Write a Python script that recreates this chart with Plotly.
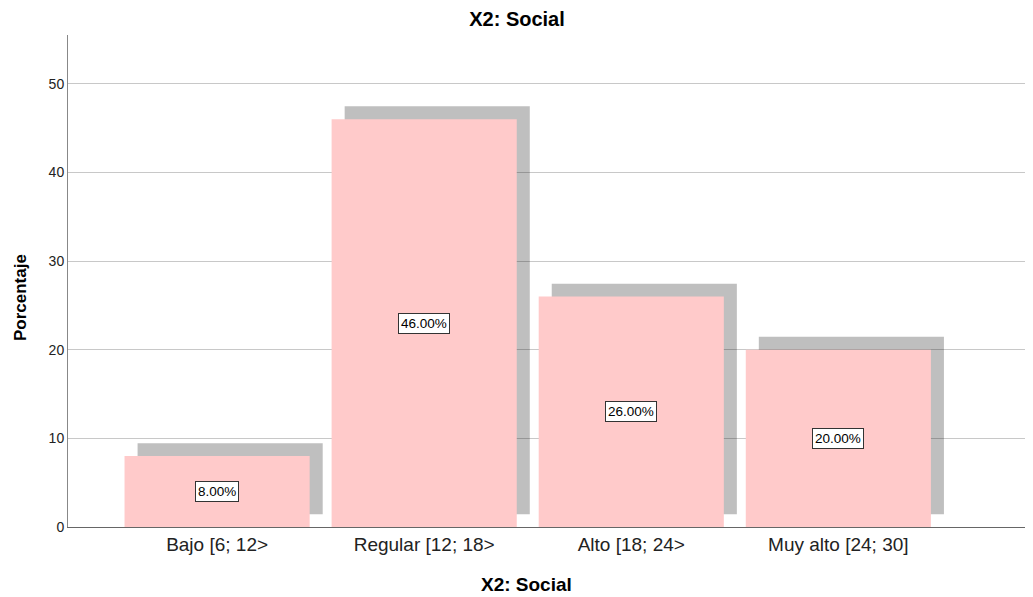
import plotly.graph_objects as go

categories = ["Bajo [6; 12>", "Regular [12; 18>", "Alto [18; 24>", "Muy alto [24; 30]"]
percentages = [8.0, 46.0, 26.0, 20.0]
labels = ["8.00%", "46.00%", "26.00%", "20.00%"]
y_ticks = [0, 10, 20, 30, 40, 50]

FONT = "Arial, Liberation Sans, sans-serif"
bar_w = 0.894
shadow_dx = 0.063
shadow_base = 1.45

fig = go.Figure()
# drop shadow
fig.add_trace(go.Bar(
    x=categories, y=percentages, base=shadow_base,
    width=bar_w, offset=-bar_w / 2 + shadow_dx,
    marker=dict(color="rgba(0,0,0,0.25)", line=dict(width=0)),
    hoverinfo="skip", showlegend=False,
))
# main bars
fig.add_trace(go.Bar(
    x=categories, y=percentages,
    width=bar_w, offset=-bar_w / 2,
    marker=dict(color="#ffcaca", line=dict(width=0)),
    showlegend=False,
))

for c, v, t in zip(categories, percentages, labels):
    fig.add_annotation(
        x=c, y=v / 2, text=t, showarrow=False,
        font=dict(family=FONT, size=13.5, color="black"),
        bgcolor="white", bordercolor="#333333", borderwidth=1, borderpad=2,
    )

fig.add_annotation(
    xref="paper", yref="paper", x=0.4756, y=-0.116, text="<b>X2: Social</b>",
    showarrow=False, font=dict(family=FONT, size=19, color="black"),
    xanchor="center", yanchor="middle",
)
fig.add_annotation(
    xref="paper", yref="paper", x=-0.0497, y=0.4654, text="<b>Porcentaje</b>",
    showarrow=False, textangle=-90, font=dict(family=FONT, size=17, color="black"),
    xanchor="center", yanchor="middle",
)

fig.update_layout(
    width=1025, height=589,
    margin=dict(l=60, r=0, t=27, b=70),
    paper_bgcolor="white", plot_bgcolor="white",
    barmode="overlay",
    title=dict(text="<b>X2: Social</b>", x=0.4966, xref="container", xanchor="center",
               y=0.981, yanchor="middle",
               font=dict(family=FONT, size=20, color="black")),
    font=dict(family=FONT, color="black"),
    xaxis=dict(
        range=[-0.72, 3.94], showgrid=False, showline=True, linecolor="#666666", linewidth=1,
        ticks="", tickfont=dict(family=FONT, size=19, color="#222222"), zeroline=False,
    ),
    yaxis=dict(
        range=[0, 55.5], tickvals=y_ticks, showgrid=True, gridcolor="#c8c8c8", gridwidth=1,
        showline=True, linecolor="#888888", linewidth=1, ticks="", zeroline=False,
        tickfont=dict(family=FONT, size=14, color="#222222"),
    ),
)

fig.write_html("out.html")
